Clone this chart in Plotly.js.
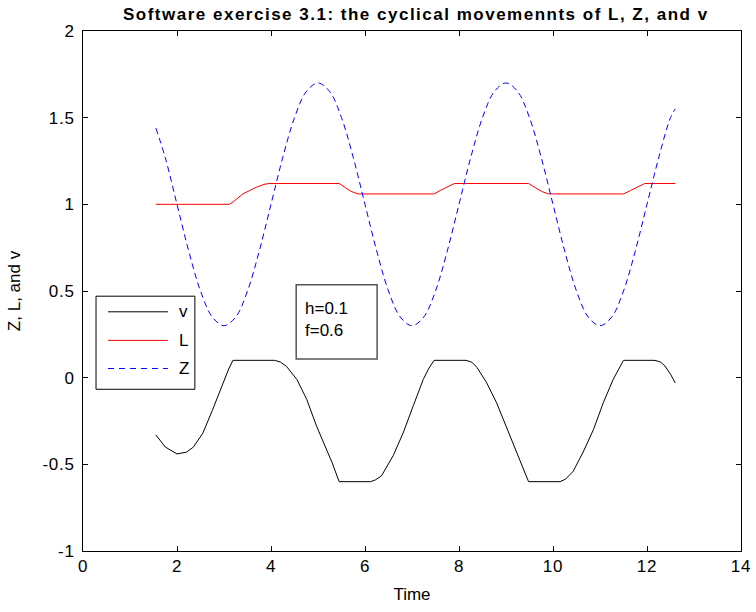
<!DOCTYPE html>
<html>
<head>
<meta charset="utf-8">
<script src="https://cdn.plot.ly/plotly-3.0.1.min.js"></script>
<style>
html,body{margin:0;padding:0;background:#fff;}
#chart{width:756px;height:612px;}
#chart .gtitle{letter-spacing:1.5px;}
#chart .xtick text, #chart .ytick text{letter-spacing:0.7px;}
</style>
</head>
<body>
<div id="chart"></div>
<script>
// Time values and series
const tV = [1.55,1.75,2.0,2.2,2.35,2.55,2.75,2.95,3.1,3.19,4.08,4.2,4.33,4.55,4.76,4.97,5.18,5.3,5.45,6.12,6.22,6.35,6.6,6.81,7.03,7.24,7.35,7.47,8.15,8.27,8.38,8.59,8.8,9.02,9.23,9.35,9.48,10.15,10.27,10.43,10.64,10.86,11.07,11.28,11.4,11.5,12.17,12.29,12.38,12.5,12.6];
const vVals = [-0.33,-0.40,-0.44,-0.43,-0.40,-0.32,-0.19,-0.05,0.05,0.10,0.10,0.09,0.065,-0.01,-0.125,-0.28,-0.41,-0.49,-0.60,-0.60,-0.59,-0.567,-0.45,-0.32,-0.16,-0.01,0.05,0.10,0.10,0.09,0.06,-0.03,-0.145,-0.29,-0.43,-0.51,-0.60,-0.60,-0.585,-0.54,-0.43,-0.30,-0.145,-0.01,0.05,0.10,0.10,0.09,0.068,0.02,-0.03];

const tL = [1.55,3.11,3.2,3.3,3.4,3.55,3.7,3.85,3.95,5.45,5.55,5.7,5.85,7.47,7.6,7.75,7.9,9.48,9.6,9.75,9.9,11.5,11.65,11.8,11.95,12.6];
const LVals = [1.0,1.0,1.015,1.035,1.06,1.08,1.10,1.115,1.12,1.12,1.10,1.075,1.06,1.06,1.08,1.10,1.12,1.12,1.10,1.075,1.06,1.06,1.08,1.10,1.12,1.12];

const tZ = [1.55,1.75,2.0,2.25,2.5,2.75,3.0,3.25,3.5,3.75,4.0,4.25,4.5,4.75,5.0,5.25,5.5,5.75,6.0,6.25,6.5,6.75,7.0,7.25,7.5,7.75,8.0,8.25,8.5,8.75,9.0,9.25,9.5,9.75,10.0,10.25,10.5,10.75,11.0,11.25,11.5,11.75,12.0,12.25,12.5,12.6];
const ZVals = [1.44,1.27,1.0,0.73,0.5,0.35,0.3,0.35,0.5,0.73,1.0,1.27,1.5,1.65,1.7,1.65,1.5,1.27,1.0,0.73,0.5,0.35,0.3,0.35,0.5,0.73,1.0,1.27,1.5,1.65,1.7,1.65,1.5,1.27,1.0,0.73,0.5,0.35,0.3,0.35,0.5,0.73,1.0,1.27,1.5,1.55];

const seriesNames = ['v','L','Z'];
const seriesColors = ['#000000','#ff0000','#0000ff'];
const seriesDash = ['solid','solid','6px,4px'];
const xTicks = [0,2,4,6,8,10,12,14];
const yTicks = [-1,-0.5,0,0.5,1,1.5,2];
const titleText = 'Software exercise 3.1: the cyclical movemennts of L, Z, and v';
const noteText = 'h=0.1<br>f=0.6';

const font = 'Liberation Sans, Arial, sans-serif';

const traces = [
  {x: tV, y: vVals, name: seriesNames[0], mode: 'lines', line: {color: seriesColors[0], width: 1, dash: seriesDash[0]}},
  {x: tL, y: LVals, name: seriesNames[1], mode: 'lines', line: {color: seriesColors[1], width: 1, dash: seriesDash[1]}},
  {x: tZ, y: ZVals, name: seriesNames[2], mode: 'lines', line: {color: seriesColors[2], width: 1, dash: seriesDash[2], shape: 'spline', smoothing: 1}}
];

// custom legend (MATLAB style) in paper coords
const shapes = [
  {type: 'rect', xref: 'paper', yref: 'paper', x0: 0.0198, x1: 0.170, y0: 0.311, y1: 0.490, line: {color: '#000', width: 1}, fillcolor: '#fff', layer: 'above'},
  {type: 'rect', xref: 'paper', yref: 'paper', x0: 0.324, x1: 0.447, y0: 0.369, y1: 0.512, line: {color: '#555', width: 1.5}, fillcolor: 'rgba(0,0,0,0)', layer: 'above'}
];
const annotations = [];
const legRowsY = [0.460, 0.405, 0.351];
for (let i = 0; i < 3; i++) {
  shapes.push({type: 'line', xref: 'paper', yref: 'paper', x0: 0.038, x1: 0.129, y0: legRowsY[i], y1: legRowsY[i],
    line: {color: seriesColors[i], width: 1, dash: i === 2 ? '6px,5px' : 'solid'}, layer: 'above'});
  annotations.push({xref: 'paper', yref: 'paper', x: 0.143, y: legRowsY[i], xanchor: 'left', yanchor: 'middle',
    text: seriesNames[i], showarrow: false, font: {family: font, size: 17, color: '#000'}});
}
annotations.push({xref: 'paper', yref: 'paper', x: 0.334, y: 0.488, xanchor: 'left', yanchor: 'top', align: 'left',
  text: noteText, showarrow: false, font: {family: font, size: 17, color: '#000'}});

const layout = {
  width: 756, height: 612,
  margin: {l: 83, r: 15, t: 31, b: 61},
  paper_bgcolor: '#fff', plot_bgcolor: '#fff',
  showlegend: false,
  font: {family: font, size: 17, color: '#000'},
  title: {text: '<b>' + titleText + '</b>', font: {family: font, size: 17, color: '#000'}, x: 0.55, xanchor: 'center', y: 0.977, yanchor: 'middle', yref: 'container'},
  xaxis: {range: [0, 14], tickvals: xTicks, ticktext: xTicks.map(String), ticks: 'inside', ticklen: 5, tickcolor: '#000',
    showline: true, linecolor: '#000', linewidth: 1, mirror: 'ticks', showgrid: false, zeroline: false,
    title: {text: 'Time', font: {family: font, size: 17}, standoff: 12}, automargin: false},
  yaxis: {range: [-1, 2], tickvals: yTicks, ticktext: yTicks.map(String), ticks: 'inside', ticklen: 5, tickcolor: '#000',
    showline: true, linecolor: '#000', linewidth: 1, mirror: 'ticks', showgrid: false, zeroline: false, ticklabelstandoff: 4,
    title: {text: 'Z, L, and v', font: {family: font, size: 17}, standoff: 20}, automargin: false},
  shapes: shapes,
  annotations: annotations
};

Plotly.newPlot('chart', traces, layout, {displayModeBar: false, staticPlot: true});
</script>
</body>
</html>
